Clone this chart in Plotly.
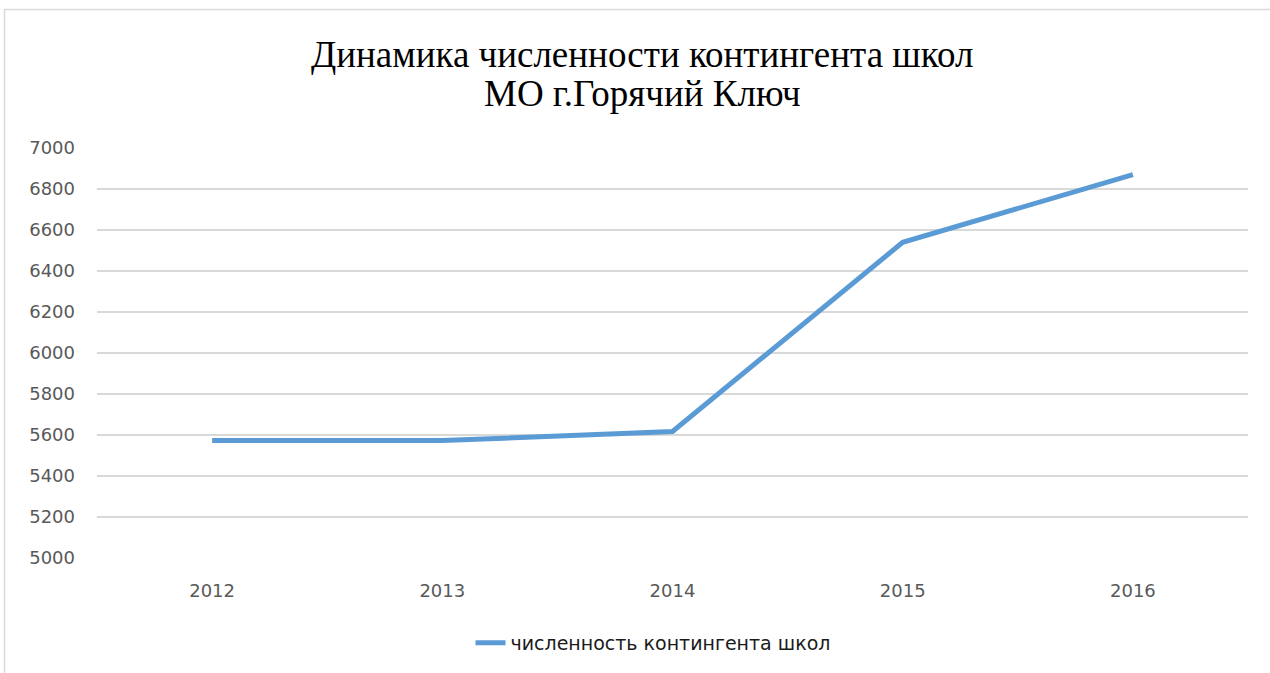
import plotly.graph_objects as go

years = ["2012", "2013", "2014", "2015", "2016"]
pupils = [5573, 5573, 5617, 6540, 6870]
series_name = "численность контингента школ"
title_lines = ["Динамика численности контингента школ", "МО г.Горячий Ключ"]

W, H = 1270, 673
L, R, T, B = 97, 22, 148, 115
pw, ph = W - L - R, H - T - B

def px_x(x):
    return (x - L) / pw

def px_y(y):
    return 1 - (y - T) / ph

fig = go.Figure()
fig.add_trace(go.Scatter(
    x=years, y=pupils, mode="lines", name=series_name,
    line=dict(color="#5b9bd5", width=5),
))

tfont = dict(family="Liberation Serif", size=37, color="#000000")
annotations = [
    dict(text=title_lines[0], x=px_x(642), y=px_y(54), xref="paper", yref="paper",
         xanchor="center", yanchor="middle", showarrow=False, font=tfont),
    dict(text=title_lines[1], x=px_x(642), y=px_y(94), xref="paper", yref="paper",
         xanchor="center", yanchor="middle", showarrow=False, font=tfont),
]

tick_font = dict(family="DejaVu Sans", size=18, color="#595959")

fig.update_layout(
    width=W, height=H,
    margin=dict(l=L, r=R, t=T, b=B),
    paper_bgcolor="white", plot_bgcolor="white",
    showlegend=True,
    legend=dict(
        orientation="h", xref="container", x=653 / W, xanchor="center",
        yref="container", y=1 - 643 / H, yanchor="middle",
        font=dict(family="DejaVu Sans", size=19, color="#1a1a1a"),
    ),
    xaxis=dict(
        type="category", range=[-0.5, 4.5],
        showgrid=False, zeroline=False, showline=False, ticks="",
        tickfont=tick_font, ticklabelstandoff=20,
    ),
    yaxis=dict(
        range=[5000, 7000], dtick=200, tick0=5000,
        showgrid=True, gridcolor="#d9d9d9", gridwidth=1.5,
        zeroline=False, showline=False, ticks="",
        tickfont=tick_font, ticklabelstandoff=21,
    ),
    annotations=annotations,
    shapes=[
        dict(type="line", xref="paper", yref="paper",
             x0=px_x(4.5), x1=px_x(4.5), y0=px_y(9), y1=px_y(680),
             line=dict(color="#d9d9d9", width=1.5)),
        dict(type="line", xref="paper", yref="paper",
             x0=px_x(4.5), x1=px_x(1280), y0=px_y(9.5), y1=px_y(9.5),
             line=dict(color="#d9d9d9", width=1.5)),
    ],
)

fig.write_html(
    "out.html",
    config={"displayModeBar": False},
    post_script="document.body.style.margin='0';document.body.style.overflow='hidden';",
)
